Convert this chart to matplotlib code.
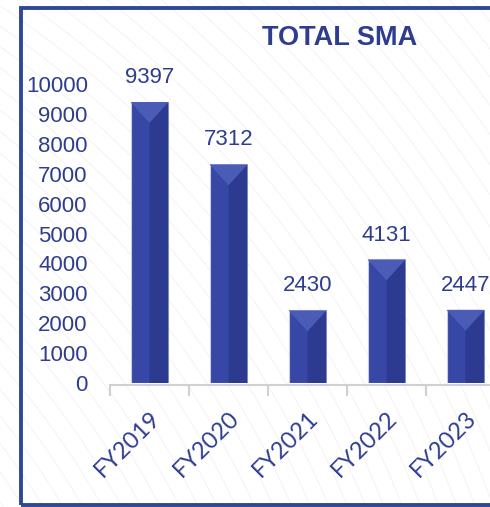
import numpy as np
import matplotlib
matplotlib.use("Agg")
import matplotlib.pyplot as plt
from matplotlib.patches import Rectangle, Polygon, Arc

years = ["FY2019", "FY2020", "FY2021", "FY2022", "FY2023"]
totals = [9397, 7312, 2430, 4131, 2447]
yticks = list(range(0, 10001, 1000))

NAVY = "#2E3D8E"
BAR = "#3747A6"
BAR_DARK = "#2C3A90"
BAR_LIGHT = "#4B5CB6"
FRAME = "#2F4896"

W, H, DPI = 4.9, 5.07, 100
fig = plt.figure(figsize=(W, H), dpi=DPI)
fig.patch.set_facecolor("white")

# faint watermark arcs behind the chart
bg = fig.add_axes([0, 0, 1, 1], zorder=-5)
bg.set_xlim(0, 490)
bg.set_ylim(507, 0)
bg.axis("off")
for r in np.arange(720, 1420, 17):
    bg.add_patch(Arc((-600, 900), 2 * r, 2 * r, theta1=270, theta2=360,
                     color="#F7F3F5", lw=0.8))

ax_left, ax_bottom = 110 / 490, (507 - 383) / 507
ax_w, ax_h = 395 / 490, 299 / 507
ax = fig.add_axes([ax_left, ax_bottom, ax_w, ax_h])
ax.patch.set_alpha(0)

x = np.arange(len(years))
bw = 0.48
ax.bar(x, totals, width=bw, color=BAR, edgecolor="#C9CDE2", linewidth=0.8, zorder=3)

ax.set_xlim(-0.5, len(years) - 0.5)
ax.set_ylim(0, 10000)

# bevel facets on each bar, sized in pixels so the top stays square-ish
px_x = len(years) / (ax_w * W * DPI)
px_y = 10000 / (ax_h * H * DPI)
half_px = (bw / 2) / px_x
for xi, v in zip(x, totals):
    x0, x1 = xi - bw / 2, xi + bw / 2
    depth = half_px * 1.1 * px_y
    ax.add_patch(Polygon([(xi, 0), (x1, 0), (x1, v), (xi, v - depth)],
                         closed=True, color=BAR_DARK, lw=0, zorder=4))
    ax.add_patch(Polygon([(x0, v), (x1, v), (xi, v - depth)],
                         closed=True, color=BAR_LIGHT, lw=0, zorder=5))
    ax.annotate(f"{v}", (xi, v), xytext=(0, 10), textcoords="offset points",
                ha="center", va="bottom", fontsize=16, color=NAVY,
                family="Liberation Sans", annotation_clip=False, zorder=6)

for s in ["top", "right", "left"]:
    ax.spines[s].set_visible(False)
ax.spines["bottom"].set_color("#D0D0D0")
ax.spines["bottom"].set_linewidth(1.5)
ax.spines["bottom"].set_zorder(2)
ax.spines["bottom"].set_position(("outward", 1.5))

ax.set_yticks(yticks)
ax.set_yticklabels([str(t) for t in yticks], family="Liberation Sans",
                   fontsize=16, color=NAVY)
ax.tick_params(axis="y", length=0, pad=16)

ax.set_xticks(x)
ax.set_xticklabels(years, rotation=45, ha="right", va="top",
                   rotation_mode="anchor", family="Lato", fontsize=17,
                   color=NAVY)
ax.tick_params(axis="x", which="major", length=0, pad=16)
ax.set_xticks(np.arange(-0.5, len(years), 1.0), minor=True)
ax.tick_params(axis="x", which="minor", length=8, width=1.5, color="#D0D0D0")

fig.text(340 / 490, 1 - 38 / 507, "TOTAL SMA", ha="center", va="center",
         fontsize=19.5, fontweight="bold", color=NAVY, family="Liberation Sans")

# dark blue frame, running off the right edge
fig.add_artist(Rectangle((21 / 490, 2 / 507), 1.2, (505 - 8) / 507,
                         transform=fig.transFigure, fill=False,
                         edgecolor=FRAME, linewidth=2.8, zorder=10))

fig.savefig("out.png", dpi=DPI)
